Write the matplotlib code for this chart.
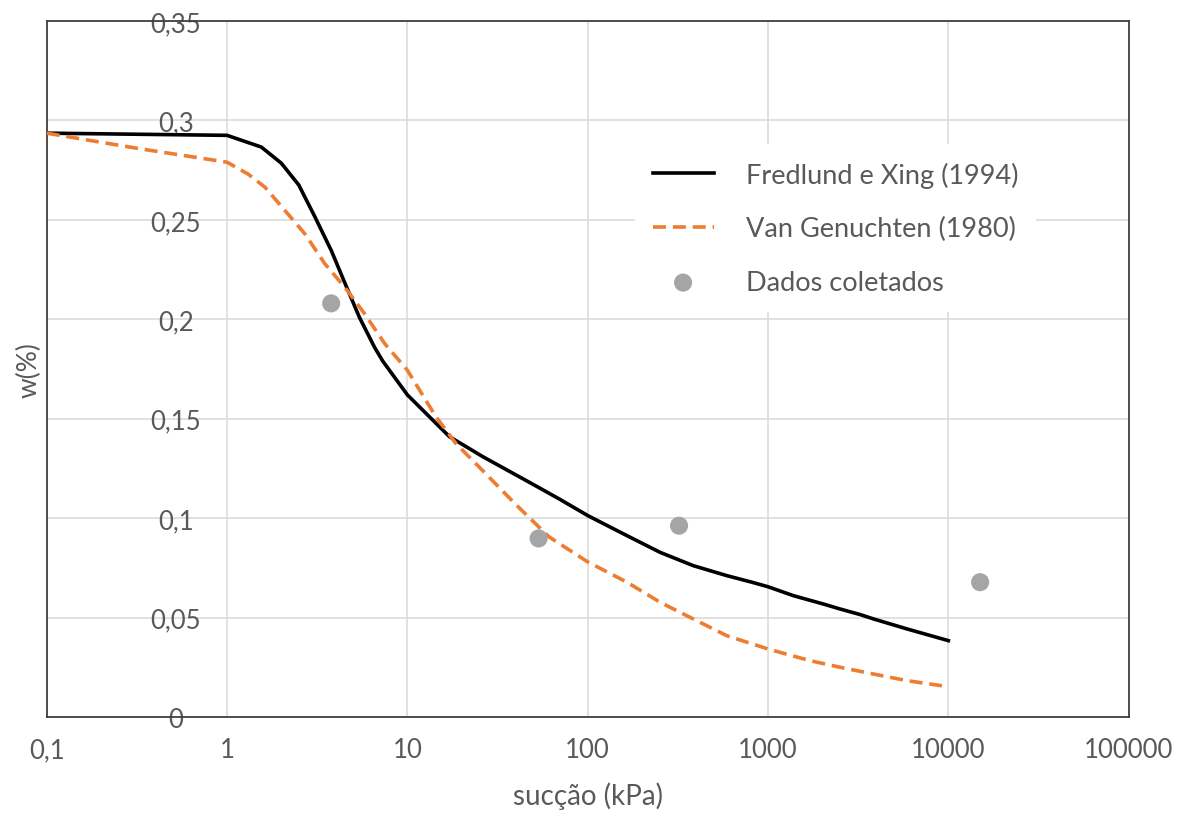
import matplotlib
matplotlib.use("Agg")
import matplotlib.pyplot as plt
from matplotlib.ticker import FixedLocator, FixedFormatter

# ---- data ----
fx_suction = [0.1, 1, 1.55, 2, 2.5, 3.06, 3.78, 4.49, 5.42, 6.57, 7.3, 10, 17.1,
              26.1, 49.3, 70, 100, 165, 252, 385, 590, 812, 1000, 1384, 2030,
              2512, 3245, 3850, 5890, 10000]
fx_w = [0.2936, 0.2925, 0.2866, 0.2785, 0.2675, 0.2518, 0.2347, 0.2185, 0.201,
        0.186, 0.179, 0.162, 0.141, 0.131, 0.1172, 0.1095, 0.1013, 0.0912,
        0.0828, 0.0761, 0.0711, 0.0678, 0.0655, 0.061, 0.0568, 0.0543, 0.0515,
        0.0493, 0.0443, 0.0384]

vg_suction = [0.1, 0.316, 1, 1.31, 1.62, 2.09, 2.7, 3.48, 4.49, 5.78, 7.48, 10,
              14.4, 18.6, 26.1, 39.8, 61, 100, 165, 252, 385, 590, 1000, 1715,
              2512, 3850, 5890, 9200]
vg_w = [0.2936, 0.286, 0.279, 0.273, 0.2665, 0.2548, 0.243, 0.228, 0.2162,
        0.2029, 0.1878, 0.1744, 0.151, 0.1375, 0.124, 0.107, 0.0906, 0.078,
        0.0678, 0.0577, 0.0493, 0.0409, 0.0342, 0.0283, 0.025, 0.0216, 0.0183,
        0.0157]

data_suction = [3.78, 53.4, 321, 15000]
data_w = [0.208, 0.0898, 0.0962, 0.0678]

x_ticks = [0.1, 1, 10, 100, 1000, 10000, 100000]
x_ticklabels = ["0,1", "1", "10", "100", "1000", "10000", "100000"]
y_ticks = [0, 0.05, 0.1, 0.15, 0.2, 0.25, 0.3, 0.35]
y_ticklabels = ["0", "0,05", "0,1", "0,15", "0,2", "0,25", "0,3", "0,35"]

labels = ["Fredlund e Xing (1994)", "Van Genuchten (1980)", "Dados coletados"]

# ---- style ----
plt.rcParams['font.family'] = ['Lato', 'DejaVu Sans']
text_color = "#595959"
W, H = 1189, 820
fig = plt.figure(figsize=(W / 100, H / 100), dpi=100)
ax = fig.add_axes([46.7 / W, 1 - 718 / H, (1128.7 - 46.7) / W, (718 - 22) / H])

ax.plot(fx_suction, fx_w, color="black", lw=2.6, label=labels[0], zorder=3,
        solid_joinstyle="round")
ax.plot(vg_suction, vg_w, color="#ED7D31", lw=2.6, ls=(0, (3.6, 1.9)),
        label=labels[1], zorder=3)
ax.scatter(data_suction, data_w, s=170, color="#A5A5A5", edgecolors="none",
           label=labels[2], zorder=4)

ax.set_xscale("log")
ax.set_xlim(0.1, 100000)
ax.set_ylim(0, 0.35)
ax.xaxis.set_major_locator(FixedLocator(x_ticks))
ax.xaxis.set_major_formatter(FixedFormatter(x_ticklabels))
ax.xaxis.set_minor_locator(FixedLocator([]))
ax.yaxis.set_major_locator(FixedLocator(y_ticks))
ax.yaxis.set_major_formatter(FixedFormatter(y_ticklabels))

ax.grid(True, color="#D9D9D9", lw=1.1, zorder=0)
ax.set_axisbelow(True)
for s in ax.spines.values():
    s.set_color("#404040")
    s.set_linewidth(1.3)

ax.tick_params(axis="x", length=0, pad=14.5, labelsize=18.5, labelcolor=text_color)
ax.tick_params(axis="y", length=0, pad=-93, labelsize=18.5, labelcolor=text_color)
for t in ax.get_yticklabels():
    t.set_horizontalalignment("center")

ax.set_xlabel("sucção (kPa)", fontsize=20, color=text_color, labelpad=14)
ax.set_ylabel("w(%)", fontsize=19, color=text_color, labelpad=4)

leg = ax.legend(loc="upper left",
                bbox_to_anchor=((635 - 46.7) / (1128.7 - 46.7), (718 - 145) / (718 - 22)),
                frameon=True, fontsize=19.5, handlelength=2.25, handletextpad=1.2,
                labelspacing=1.05, borderpad=0.65, borderaxespad=0)
leg.get_frame().set_facecolor("white")
leg.get_frame().set_edgecolor("none")
leg.get_frame().set_alpha(1)
leg.get_frame().set_boxstyle("square", pad=0)
for t in leg.get_texts():
    t.set_color(text_color)

fig.savefig("out.png", dpi=100)
